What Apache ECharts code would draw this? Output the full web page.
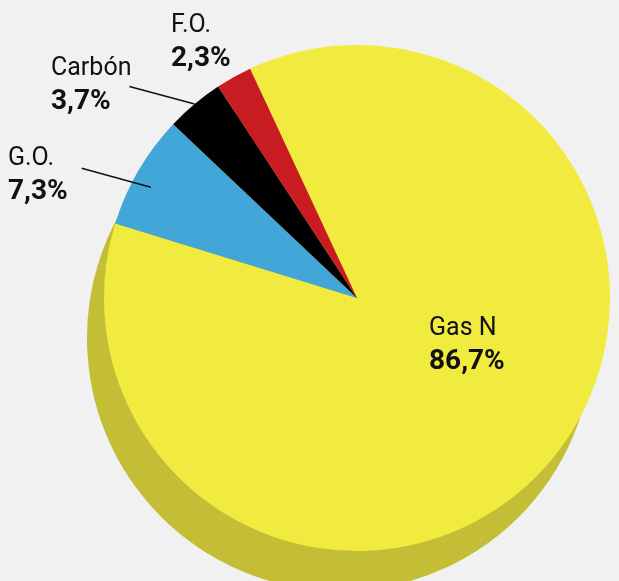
<!DOCTYPE html>
<html>
<head>
<meta charset="utf-8">
<script src="https://cdn.jsdelivr.net/npm/echarts@6/dist/echarts.min.js"></script>
<style>
html,body{margin:0;padding:0;background:#f1f1f1;}
#c{width:619px;height:581px;}
</style>
</head>
<body>
<div id="c"></div>
<script>
// ---- data ----
const categories = ['Gas N', 'G.O.', 'Carbón', 'F.O.'];
const shares = [86.7, 7.3, 3.7, 2.3];
const sliceColors = ['#f1eb3f', '#42a6d9', '#000000', '#c91b22'];

// ---- layout / style ----
const CX = 357, CY = 298, R = 253;
const START = 115;
const labelPos = [ {x: 429, y: 312}, {x: 8, y: 142}, {x: 51, y: 52}, {x: 171, y: 9} ];
const leader = { 1: {k: 0.925, da: 2, gap: 14, fy: 0.44}, 2: {k: 1.0, da: 0, gap: -2, fy: 0.58} };

function fmt(v) { return v.toFixed(1).replace('.', ',') + '%'; }
const total = shares.reduce((a, b) => a + b, 0);
function midAngle(i) {
  let cum = 0;
  for (let j = 0; j < i; j++) cum += shares[j];
  return START - (cum + shares[i] / 2) / total * 360;
}

const pieBase = {type: 'pie', radius: R, startAngle: START, emphasis: {disabled: true}, animation: false};

const chart = echarts.init(document.getElementById('c'), null, {renderer: 'canvas'});
chart.setOption({
  backgroundColor: '#f1f1f1',
  animation: false,
  series: [
    Object.assign({}, pieBase, {
      name: 'shadow',
      silent: true,
      z: 1,
      center: [CX - 17, CY + 40],
      label: {show: false},
      labelLine: {show: false},
      itemStyle: {color: '#c4be37', borderWidth: 0},
      data: shares.map((v, i) => ({name: categories[i], value: v}))
    }),
    Object.assign({}, pieBase, {
      name: 'main',
      z: 2,
      center: [CX, CY],
      itemStyle: {borderWidth: 0},
      label: {show: false},
      labelLine: {show: false},
      data: shares.map((v, i) => ({name: categories[i], value: v, itemStyle: {color: sliceColors[i]}}))
    }),
    Object.assign({}, pieBase, {
      name: 'labels',
      silent: true,
      z: 3,
      center: [CX, CY],
      itemStyle: {color: 'rgba(0,0,0,0)', borderWidth: 0},
      label: {
        show: true,
        position: 'outside',
        formatter: p => '{n|' + p.name + '}\n{v|' + fmt(p.value) + '}',
        rich: {
          n: {fontFamily: 'Roboto', fontSize: 25, lineHeight: 33, color: '#111'},
          v: {fontFamily: 'Roboto', fontSize: 28, fontWeight: 'bold', lineHeight: 33, color: '#111'}
        }
      },
      labelLine: {show: true, length: 10, length2: 10, lineStyle: {color: '#111', width: 1.5, opacity: 1}},
      labelLayout: function (p) {
        const pos = labelPos[p.dataIndex];
        const out = {x: pos.x, y: pos.y, align: 'left', verticalAlign: 'top'};
        const L = leader[p.dataIndex];
        if (L) {
          const a = (midAngle(p.dataIndex) + L.da) * Math.PI / 180;
          const sx = CX + R * L.k * Math.cos(a);
          const sy = CY - R * L.k * Math.sin(a);
          out.labelLinePoints = [[sx, sy], [pos.x + p.labelRect.width + L.gap, pos.y + p.labelRect.height * L.fy]];
        }
        return out;
      },
      data: shares.map((v, i) => ({
        name: categories[i],
        value: v,
        label: i === 0 ? {position: 'inside'} : {},
        labelLine: {show: !!leader[i]}
      }))
    })
  ]
});
</script>
</body>
</html>
